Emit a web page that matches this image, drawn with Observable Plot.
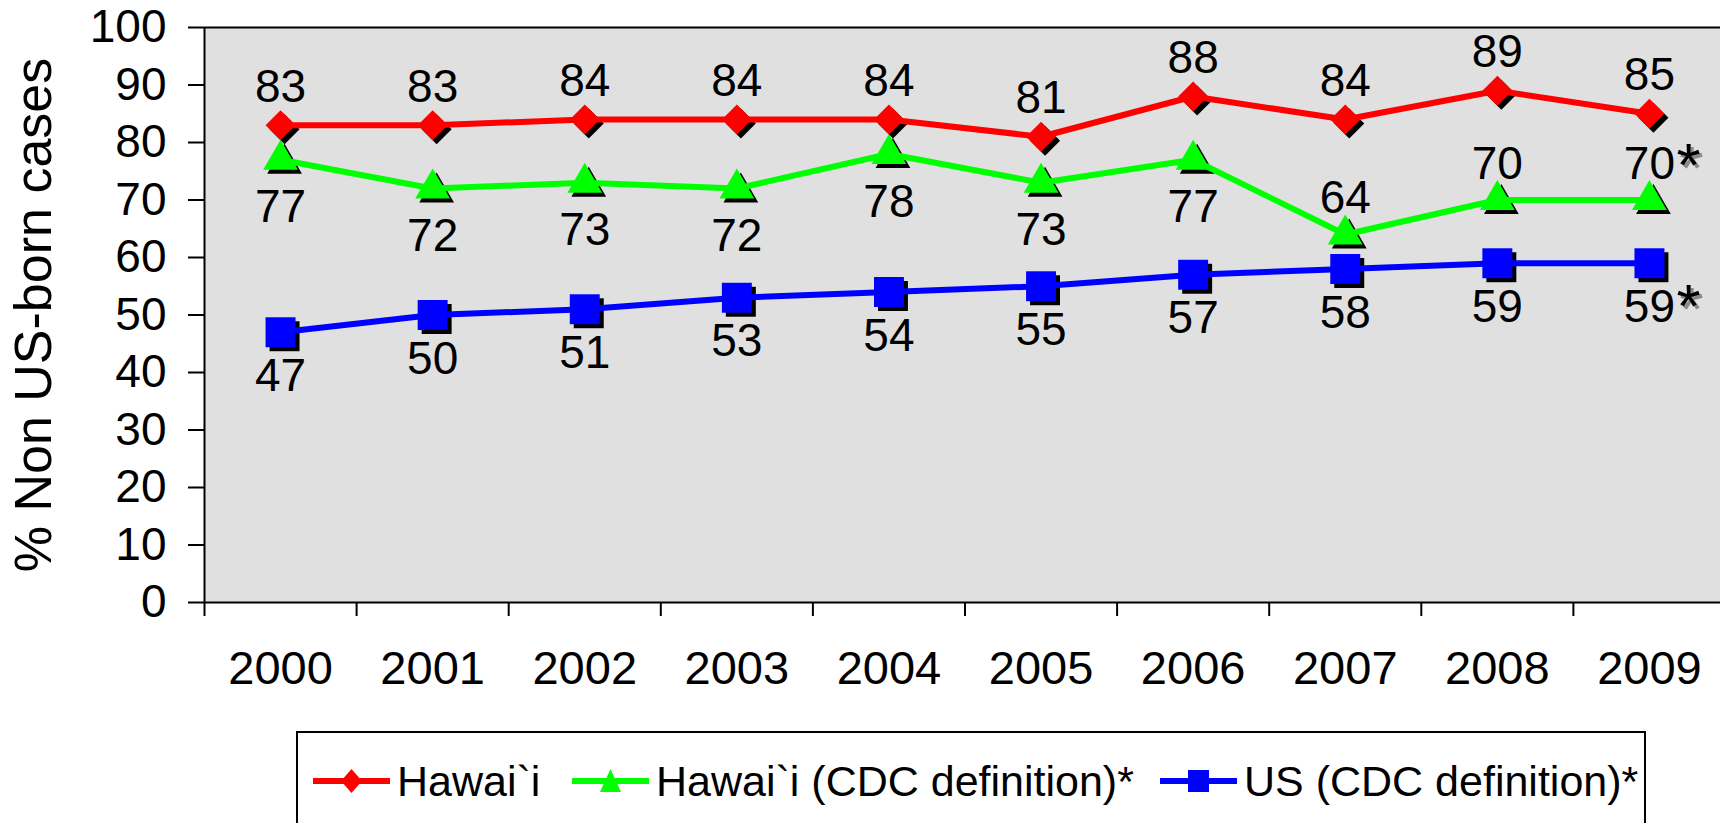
<!DOCTYPE html>
<html>
<head>
<meta charset="utf-8">
<script src="https://cdn.jsdelivr.net/npm/d3@7"></script>
<script src="https://cdn.jsdelivr.net/npm/@observablehq/plot@0.6"></script>
<style>
  html, body { margin: 0; padding: 0; background: white; }
  body { width: 1720px; height: 823px; overflow: hidden; position: relative; font-family: "Liberation Sans", Arial, sans-serif; }
  #legend { position: absolute; left: 296px; top: 731px; width: 1350px; height: 130px; border: 2px solid black; box-sizing: border-box; background: white; }
  .item { position: absolute; top: 28px; height: 40px; display: flex; align-items: center; font-size: 43px; color: black; white-space: nowrap; }
  .item svg { margin-right: 7px; }
</style>
</head>
<body>
<div id="chart"></div>
<div id="legend"></div>
<script>
// ---- data ----
const years = [2000, 2001, 2002, 2003, 2004, 2005, 2006, 2007, 2008, 2009];
const seriesNames = ["Hawai`i", "Hawai`i (CDC definition)*", "US (CDC definition)*"];
const hawaii    = [83, 83, 84, 84, 84, 81, 88, 84, 89, 85];
const hawaiiCDC = [77, 72, 73, 72, 78, 73, 77, 64, 70, 70];
const usCDC     = [47, 50, 51, 53, 54, 55, 57, 58, 59, 59];
const yTicks = [0, 10, 20, 30, 40, 50, 60, 70, 80, 90, 100];
const greenLabelAbove = [2007, 2008, 2009];
const starred = [{series: "Hawai`i (CDC definition)*", year: 2009}, {series: "US (CDC definition)*", year: 2009}];
const yLabel = "% Non US-born cases";

// ---- styles ----
const colors = {"Hawai`i": "#ff0000", "Hawai`i (CDC definition)*": "#00ff00", "US (CDC definition)*": "#0000ff"};
const symbols = {"Hawai`i": "diamond2", "Hawai`i (CDC definition)*": "triangle", "US (CDC definition)*": "square"};
const radii = {"Hawai`i": 13.5, "Hawai`i (CDC definition)*": 12.9, "US (CDC definition)*": 16.9};

const values = [hawaii, hawaiiCDC, usCDC];
const rows = seriesNames.flatMap((s, i) => years.map((y, j) => ({series: s, year: y, value: values[i][j]})));
const bySeries = s => rows.filter(d => d.series === s);

const boundaries = d3.range(years[0] - 0.5, years[years.length - 1] + 1, 1);

const marks = [
  Plot.frame({fill: "#e0e0e0", stroke: null}),
  Plot.ruleY([100], {stroke: "black", strokeWidth: 2}),
  Plot.ruleY([0], {stroke: "black", strokeWidth: 2}),
  Plot.ruleX([boundaries[0]], {stroke: "black", strokeWidth: 2}),
  Plot.axisY({ticks: yTicks, tickSize: 16, tickPadding: 22, fontSize: 46, strokeWidth: 2, label: null}),
  Plot.axisX({ticks: boundaries, tickSize: 14, tickFormat: () => "", strokeWidth: 2, label: null}),
  Plot.axisX({ticks: years, tickSize: 0, tickPadding: 48, fontSize: 47, tickFormat: d => String(d), label: null}),
  Plot.text([yLabel], {frameAnchor: "left", textAnchor: "middle", lineAnchor: "middle", rotate: -90, dx: -170, fontSize: 52, fill: "black"})
];

for (const s of seriesNames) {
  marks.push(Plot.dot(bySeries(s), {x: "year", y: "value", symbol: () => symbols[s], r: radii[s], fill: "black", dx: 4, dy: 4}));
}
for (const s of seriesNames) {
  marks.push(Plot.line(bySeries(s), {x: "year", y: "value", stroke: colors[s], strokeWidth: 6}));
  marks.push(Plot.dot(bySeries(s), {x: "year", y: "value", symbol: () => symbols[s], r: radii[s], fill: colors[s]}));
}

// data labels
const labelFont = 46;
marks.push(Plot.text(bySeries(seriesNames[0]), {x: "year", y: "value", text: d => String(d.value), dy: -38, fontSize: labelFont, fill: "black"}));
marks.push(Plot.text(bySeries(seriesNames[1]).filter(d => !greenLabelAbove.includes(d.year)), {x: "year", y: "value", text: d => String(d.value), dy: 48, fontSize: labelFont, fill: "black"}));
marks.push(Plot.text(bySeries(seriesNames[1]).filter(d => greenLabelAbove.includes(d.year)), {x: "year", y: "value", text: d => String(d.value), dy: -36, fontSize: labelFont, fill: "black"}));
marks.push(Plot.text(bySeries(seriesNames[2]), {x: "year", y: "value", text: d => String(d.value), dy: 44, fontSize: labelFont, fill: "black"}));

// asterisks
const starRows = starred.map(st => rows.find(d => d.series === st.series && d.year === st.year));
for (const [off, col] of [[3, "#8a8a8a"], [0, "black"]]) {
  marks.push(Plot.text(starRows.filter(d => d.series === seriesNames[1]), {x: "year", y: "value", text: () => "*", textAnchor: "start", dx: 27 + off, dy: -34 + off, fontSize: 62, fill: col}));
  marks.push(Plot.text(starRows.filter(d => d.series === seriesNames[2]), {x: "year", y: "value", text: () => "*", textAnchor: "start", dx: 27 + off, dy: 44 + off, fontSize: 62, fill: col}));
}

const chart = Plot.plot({
  width: 1720,
  height: 725,
  marginLeft: 204,
  marginRight: 0,
  marginTop: 27,
  marginBottom: 123,
  style: {fontFamily: "'Liberation Sans', Arial, sans-serif", background: "white", overflow: "hidden", color: "black"},
  x: {type: "linear", domain: [boundaries[0], boundaries[boundaries.length - 1]], range: [204, 1725], label: null},
  y: {domain: [0, 100], range: [602, 27], label: null},
  marks
});
document.getElementById("chart").appendChild(chart);

// legend
const legend = document.getElementById("legend");
const legendLeft = [15, 274, 862];
seriesNames.forEach((s, i) => {
  const item = document.createElement("div");
  item.className = "item";
  item.style.left = legendLeft[i] + "px";
  const c = colors[s];
  let marker = "";
  if (symbols[s] === "diamond2") marker = `<polygon points="38.5,3 49,15 38.5,27 28,15" fill="${c}"/>`;
  else if (symbols[s] === "triangle") marker = `<polygon points="38.5,3 49,26 28,26" fill="${c}"/>`;
  else marker = `<rect x="28" y="4" width="21" height="22" fill="${c}"/>`;
  item.innerHTML = `<svg width="77" height="30"><line x1="0" y1="15" x2="77" y2="15" stroke="${c}" stroke-width="6"/>${marker}</svg><span>${s}</span>`;
  legend.appendChild(item);
});
</script>
</body>
</html>
